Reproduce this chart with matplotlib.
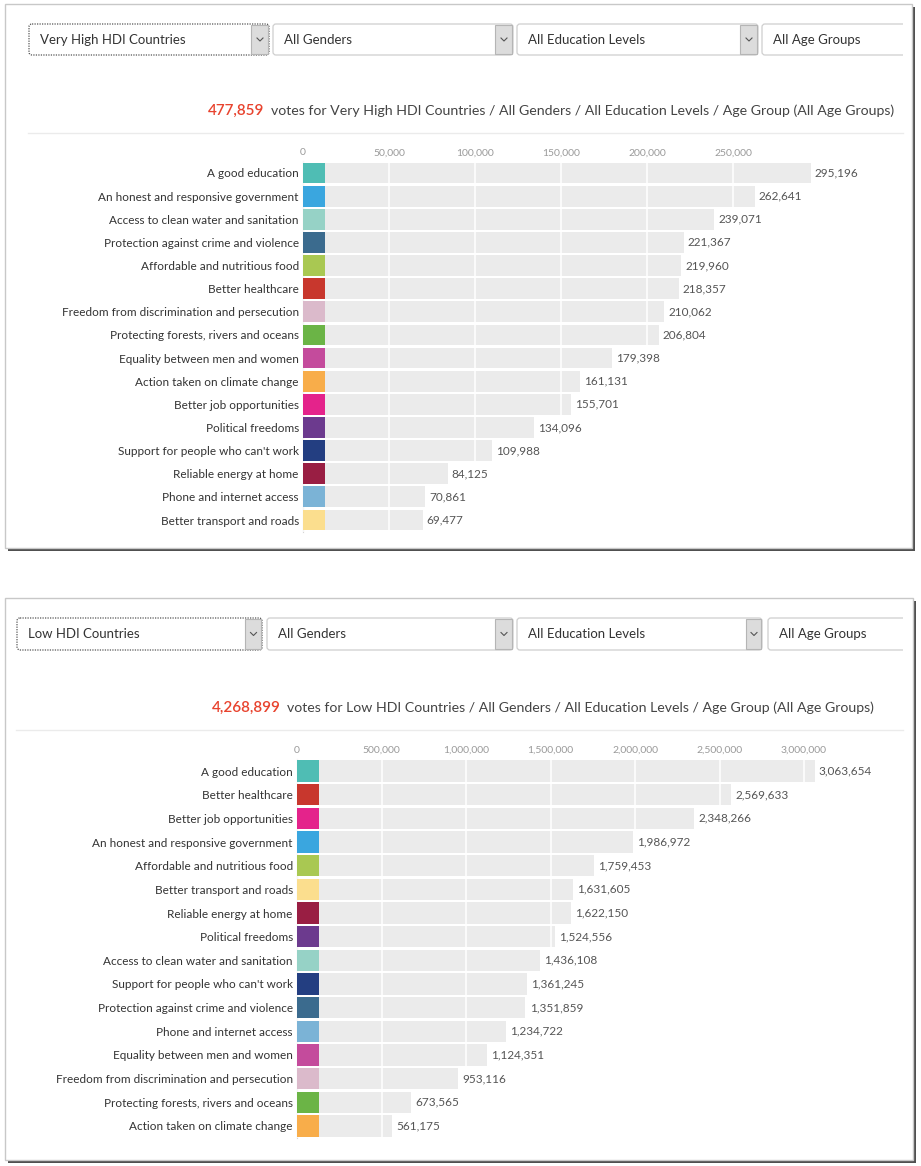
import numpy as np
import matplotlib
matplotlib.use('Agg')
import matplotlib.pyplot as plt
from matplotlib.patches import Rectangle, FancyBboxPatch
from matplotlib.ticker import FuncFormatter

plt.rcParams['font.family'] = ['Lato', 'DejaVu Sans']

W, H = 921, 1166

# Very High HDI countries
vh_labels = ['A good education', 'An honest and responsive government',
             'Access to clean water and sanitation', 'Protection against crime and violence',
             'Affordable and nutritious food', 'Better healthcare',
             'Freedom from discrimination and persecution', 'Protecting forests, rivers and oceans',
             'Equality between men and women', 'Action taken on climate change',
             'Better job opportunities', 'Political freedoms',
             "Support for people who can't work", 'Reliable energy at home',
             'Phone and internet access', 'Better transport and roads']
vh_votes = [295196, 262641, 239071, 221367, 219960, 218357, 210062, 206804,
            179398, 161131, 155701, 134096, 109988, 84125, 70861, 69477]
vh_total = 477859
vh_ticks = [0, 50000, 100000, 150000, 200000, 250000]

# Low HDI countries
low_labels = ['A good education', 'Better healthcare', 'Better job opportunities',
              'An honest and responsive government', 'Affordable and nutritious food',
              'Better transport and roads', 'Reliable energy at home', 'Political freedoms',
              'Access to clean water and sanitation', "Support for people who can't work",
              'Protection against crime and violence', 'Phone and internet access',
              'Equality between men and women', 'Freedom from discrimination and persecution',
              'Protecting forests, rivers and oceans', 'Action taken on climate change']
low_votes = [3063654, 2569633, 2348266, 1986972, 1759453, 1631605, 1622150, 1524556,
             1436108, 1361245, 1351859, 1234722, 1124351, 953116, 673565, 561175]
low_total = 4268899
low_ticks = [0, 500000, 1000000, 1500000, 2000000, 2500000, 3000000]

filters_vh = ['Very High HDI Countries', 'All Genders', 'All Education Levels', 'All Age Groups']
filters_low = ['Low HDI Countries', 'All Genders', 'All Education Levels', 'All Age Groups']

# swatch colour for each priority
colors = {
    'A good education': '#4fbdb4',
    'An honest and responsive government': '#3aa6df',
    'Access to clean water and sanitation': '#96d2c6',
    'Protection against crime and violence': '#3b6b8e',
    'Affordable and nutritious food': '#a9c852',
    'Better healthcare': '#c8372d',
    'Freedom from discrimination and persecution': '#dbbacb',
    'Protecting forests, rivers and oceans': '#6bb446',
    'Equality between men and women': '#c44b9c',
    'Action taken on climate change': '#f8ad4a',
    'Better job opportunities': '#e4238b',
    'Political freedoms': '#6c3a8e',
    "Support for people who can't work": '#233e81',
    'Reliable energy at home': '#991e43',
    'Phone and internet access': '#7bb3d6',
    'Better transport and roads': '#fbde8e',
}

fig = plt.figure(figsize=(W / 100, H / 100), dpi=100)
fig.patch.set_facecolor('white')
bg = fig.add_axes([0, 0, 1, 1])
bg.set_xlim(0, W)
bg.set_ylim(H, 0)
bg.axis('off')


def px_axes(left, top, right, bottom):
    return fig.add_axes([left / W, 1 - bottom / H, (right - left) / W, (bottom - top) / H])


def chevron(x, y):
    bg.plot([x - 3, x, x + 3], [y - 1.5, y + 1.5, y - 1.5], color='#555555', lw=0.8)


def draw_panel(frame, boxes, filters, title_y, sep, num_x, total):
    x0, y0, x1, y1 = frame
    bg.add_patch(Rectangle((x0 + 3, y0 + 3), x1 - x0, y1 - y0, fc='#505050', ec='none'))
    bg.add_patch(Rectangle((x0, y0), x1 - x0, y1 - y0, fc='white', ec='#c8c8c8', lw=1))
    clip = Rectangle((x0, y0), 903 - x0, y1 - y0, transform=bg.transData)
    for i, ((bx0, by0, bx1, by1, cx), txt) in enumerate(zip(boxes, filters)):
        p = FancyBboxPatch((bx0, by0), bx1 - bx0, by1 - by0,
                           boxstyle='round,pad=0,rounding_size=3',
                           fc='white', ec='#555555' if i == 0 else '#cfcfcf',
                           lw=0.9, ls=(0, (1, 1)) if i == 0 else '-')
        bg.add_patch(p)
        p.set_clip_path(clip)
        if cx is not None:
            bg.add_patch(Rectangle((cx, by0 + 1), bx1 - cx - 1, by1 - by0 - 2,
                                   fc='#dcdcdc', ec='#b5b5b5', lw=0.8))
            chevron((cx + bx1) / 2, (by0 + by1) / 2)
        bg.text(bx0 + 11, (by0 + by1) / 2, txt, fontsize=9.5, color='#333333',
                va='center', ha='left')
    t1 = bg.text(num_x, title_y, f'{total:,}', fontsize=11, color='#e8432e',
                 va='center', ha='left', fontweight='semibold')
    bg.annotate(f'votes for {filters[0]} / {filters[1]} / {filters[2]} / Age Group ({filters[3]})',
                xy=(1, 0.5), xycoords=t1, xytext=(4.5, 0), textcoords='offset points',
                fontsize=10.2, color='#444444', va='center', ha='left')
    bg.plot([sep[0], sep[1]], [sep[2], sep[2]], color='#ebebeb', lw=1)


def draw_bars(ax, labels, votes, ticks, xmax, width_px):
    n = len(labels)
    y = np.arange(n)
    ax.barh(y, votes, height=0.9, color='#ebebeb', zorder=1)
    sw = xmax * 22 / width_px
    ax.barh(y, [sw] * n, height=0.9, color=[colors[l] for l in labels], zorder=3)
    for yi, v in zip(y, votes):
        ax.annotate(f'{v:,}', (v, yi), xytext=(3, 0), textcoords='offset points',
                    va='center', ha='left', fontsize=8.5, color='#555555',
                    annotation_clip=False)
    ax.set_xlim(0, xmax)
    ax.set_ylim(n - 0.5, -0.5)
    ax.set_yticks(y)
    ax.set_yticklabels(labels)
    ax.xaxis.tick_top()
    ax.set_xticks(ticks)
    ax.xaxis.set_major_formatter(FuncFormatter(lambda v, p: f'{v:,.0f}'))
    ax.tick_params(axis='x', length=0, pad=3, labelsize=7.5, labelcolor='#9a9a9a')
    ax.tick_params(axis='y', length=0, pad=3, labelsize=8.5, labelcolor='#333333')
    ax.grid(axis='x', color='white', lw=1.1)
    ax.set_axisbelow(False)
    for s in ['top', 'right', 'bottom']:
        ax.spines[s].set_visible(False)
    ax.spines['left'].set_color('#d5d5d5')
    ax.spines['left'].set_linewidth(0.8)
    ax.patch.set_alpha(0)


# top panel
draw_panel((5, 4, 912, 548),
           [(29, 24, 269, 55, 251), (273, 24, 513, 55, 495),
            (517, 24, 758, 55, 740), (762, 24, 960, 55, None)],
           filters_vh, 111, (28, 903, 133), 208, vh_total)
ax1 = px_axes(303, 161.4, 905, 531.6)
draw_bars(ax1, vh_labels, vh_votes, vh_ticks, 350000, 602)

# bottom panel
draw_panel((5, 598, 913, 1160),
           [(17, 618, 262, 650, 245), (267, 618, 513, 650, 495),
            (517, 618, 762, 650, 746), (768, 618, 960, 650, None)],
           filters_low, 708, (16, 903, 730), 212, low_total)
ax2 = px_axes(297, 759.2, 905.4, 1137.8)
draw_bars(ax2, low_labels, low_votes, low_ticks, 3600000, 608.4)

fig.savefig('out.png', dpi=100)
